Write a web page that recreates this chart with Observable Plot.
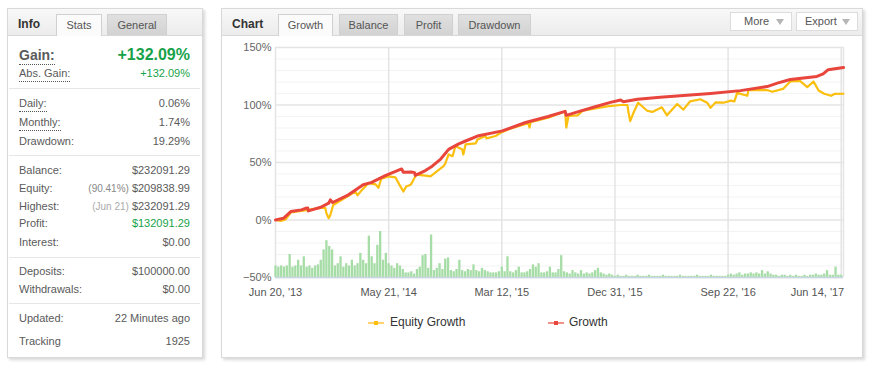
<!DOCTYPE html>
<html><head><meta charset="utf-8">
<script src="https://cdn.jsdelivr.net/npm/d3@7"></script>
<script src="https://cdn.jsdelivr.net/npm/@observablehq/plot@0.6"></script>
<style>
body{margin:0;background:#fff;font-family:"Liberation Sans",Arial,sans-serif;}
#page{position:relative;width:872px;height:368px;overflow:hidden;}
.panel{position:absolute;box-sizing:border-box;background:#fff;border:1px solid #d9d9d9;box-shadow:2px 2px 3px rgba(0,0,0,0.16);}
.hdr{position:absolute;left:0;top:0;right:0;height:26px;background:linear-gradient(#f8f8f8,#ececec);border-bottom:1px solid #d8d8d8;}
.title{position:absolute;top:8px;line-height:14px;font-weight:bold;font-size:12px;color:#333;}
.tab{position:absolute;top:5px;height:21px;box-sizing:border-box;font-size:11px;color:#555;text-align:center;line-height:20px;border:1px solid #d0d0d0;border-bottom:none;background:linear-gradient(#e0e0e0,#d2d2d2);}
.tab.on{background:#fbfbfb;height:22px;color:#555;}
.btn{position:absolute;top:3px;height:19px;box-sizing:border-box;border:1px solid #dcdcdc;background:#fff;font-size:11px;color:#555;line-height:17px;}
.btn .lab{position:absolute;left:13px;}
.btn .arr{position:absolute;right:7px;top:6px;width:0;height:0;border-left:4px solid transparent;border-right:4px solid transparent;border-top:6px solid #b5b5b5;}
.row{position:absolute;left:11px;right:12px;height:14px;line-height:14px;font-size:11px;color:#5a5a5a;}
.row .l{position:absolute;left:0;top:0;}
.row .v{position:absolute;right:0;top:0;white-space:nowrap;}
.dot{display:inline-block;border-bottom:1px dotted #555;padding-bottom:1px;}
.big{font-size:14px;font-weight:bold;line-height:16px;}
.bigv{font-size:16px;font-weight:bold;line-height:16px;}
.green{color:#17a24a;}
.note{font-size:10px;color:#888;margin-right:3px;}
.note2{font-size:10px;color:#aaa;margin-right:3px;}
.sep{position:absolute;left:1px;right:2px;height:1px;background:#e6e6e6;}
.leg{position:absolute;font-size:12px;color:#333;line-height:14px;}
.sym{position:absolute;height:2px;width:16px;}
.sym i{position:absolute;left:6px;top:-1px;width:4px;height:4px;}
</style>
</head><body>
<div id="page">
  <div class="panel" style="left:7px;top:8px;width:196px;height:350px" id="info">
    <div class="hdr"></div>
    <div class="title" style="left:10px">Info</div>
    <div class="tab on" style="left:48px;width:46px">Stats</div>
    <div class="tab" style="left:99px;width:60px">General</div>
  </div>
  <div class="panel" style="left:221px;top:8px;width:642px;height:350px">
    <div class="hdr"></div>
    <div class="title" style="left:10px">Chart</div>
    <div class="tab on" style="left:56px;width:55px">Growth</div>
    <div class="tab" style="left:117px;width:59px">Balance</div>
    <div class="tab" style="left:182px;width:49px">Profit</div>
    <div class="tab" style="left:236px;width:73px">Drawdown</div>
    <div class="btn" style="left:508px;width:62px"><span class="lab">More</span><span class="arr"></span></div>
    <div class="btn" style="left:574px;width:62px"><span class="lab" style="left:8px">Export</span><span class="arr"></span></div>
  </div>
  <div id="plot" style="position:absolute;left:222px;top:36px"></div>
  <div class="sym" style="left:368px;top:322px;background:#fdd46e"><i style="background:#fbbf0f"></i></div>
  <div class="leg" style="left:390px;top:315px" id="leg1"></div>
  <div class="sym" style="left:548px;top:322px;background:#f29189"><i style="background:#e8453c"></i></div>
  <div class="leg" style="left:569px;top:315px" id="leg2"></div>
</div>
<script>
// ---- info panel data ----
const infoLabels = ["Gain:","Abs. Gain:","Daily:","Monthly:","Drawdown:","Balance:","Equity:","Highest:","Profit:","Interest:","Deposits:","Withdrawals:","Updated:","Tracking"];
const infoValues = ["+132.09%","+132.09%","0.06%","1.74%","19.29%","$232091.29","$209838.99","$232091.29","$132091.29","$0.00","$100000.00","$0.00","22 Minutes ago","1925"];
const infoNotes = ["","","","","","","(90.41%)","(Jun 21)","","","","","",""];
const dottedRows = [0,1,2,3];
const greenRows = [0,1,8];

// ---- chart data ----
const seriesNames = ["Equity Growth","Growth"];
const xTickIdx = [0,200,400,600,800,1000];
const xTickLabels = ["Jun 20, '13","May 21, '14","Mar 12, '15","Dec 31, '15","Sep 22, '16","Jun 14, '17"];
const yTicks = [-50,0,50,100,150];
const growth = [[0,0],[14,1.5],[27,7.3],[46,8.8],[53,10.2],[57,10.4],[58,7.9],[80,11.1],[94,14.6],[97,17.5],[101,15.2],[129,21.9],[155,30.7],[170,32.7],[194,38.6],[223,44.4],[226,41.5],[240,41.8],[246,41.2],[247,38.8],[265,43],[277,46.8],[292,53],[306,61.4],[323,66],[336,68.7],[357,73],[401,77.5],[442,84.8],[482,90],[512,94.5],[514,91],[534,94],[562,98],[592,102.3],[610,104.4],[615,102.9],[640,105],[680,106.7],[769,110],[822,112.5],[869,116],[887,119],[910,122.2],[957,124.8],[968,127],[977,130.7],[1004,132.6]];
const equity = [[0,0],[9,-0.8],[18,0.5],[27,6.5],[46,8],[80,10.5],[88,10.5],[90,5.8],[94,1.5],[97,4.4],[102,13],[129,21],[141,24.8],[145,21.5],[150,24.5],[164,32],[177,31],[182,28],[187,36],[200,37.9],[212,37],[221,29],[226,24.8],[231,29.2],[239,30.7],[244,35],[249,39.5],[265,38.6],[274,38],[297,46.8],[300,49],[306,57],[313,55.5],[318,64.3],[330,61.4],[332,57],[336,65.8],[354,66.7],[357,70],[371,73],[373,71],[389,73],[401,76.6],[415,79.5],[447,84.2],[449,80.4],[451,85],[482,89],[504,93],[512,94.5],[514,80.4],[518,90.6],[534,91],[543,95],[586,98.8],[610,100],[622,100],[624,93.5],[627,86],[633,93.5],[641,102],[657,95],[666,94],[683,98],[692,91],[710,100.9],[721,96],[733,103.2],[751,105],[763,102],[769,97.5],[778,102.3],[792,102],[805,103.8],[811,103],[816,110.5],[834,108],[836,113],[869,113],[878,111.5],[897,114],[910,120.5],[927,121],[940,115.5],[951,120.4],[960,112.6],[969,110],[982,108],[988,109.6],[1004,109.8]];
const barStep = 5;
const bars = [10,9,10,9,10,20,9,10,15,10, 18,9,10,8,10,11,15,24,32,27, 24,10,12,18,9,12,10,15,10,12, 21,15,12,36,18,12,28,40,15,21,
 12,10,8,12,10,7,4,4,5,3, 7,9,19,20,8,37,6,8,12,7, 16,17,6,5,7,15,6,5,7,6, 11,6,5,8,6,5,4,4,4,5, 9,5,18,5,4,6,9,4,4,5,
 7,11,9,12,4,4,5,9,4,4, 7,19,5,4,3,6,4,3,6,3, 4,3,4,6,8,4,3,2,3,2, 1,2,1,1,2,1,1,1,2,1, 1,1,2,1,1,1,1,2,1,1,
 1,1,1,2,1,1,1,1,1,2, 1,1,1,1,2,1,1,1,1,1, 2,3,2,3,4,2,3,3,4,3, 4,3,6,3,5,3,2,2,1,2, 2,1,2,1,2,1,1,2,1,2,
 2,3,2,2,3,6,2,2,9,2, 2];

// ---- info panel layout ----
const rowCenters = [55,73,103,122,141,170,188,206,223,242,271,289,318,341];
const sepYs = [88,155,257,303];
const info = document.getElementById("info");
infoLabels.forEach((lab,i)=>{
  const r = document.createElement("div");
  r.className = "row";
  const big = i===0;
  r.style.top = (rowCenters[i] - (big?8:7) - 9) + "px";
  if (big) r.style.height = "16px";
  const l = document.createElement("span");
  l.className = "l" + (big?" big":"");
  const inner = document.createElement("span");
  if (dottedRows.includes(i)) inner.className = "dot";
  inner.textContent = lab;
  l.appendChild(inner);
  const v = document.createElement("span");
  v.className = "v" + (big?" bigv":"") + (greenRows.includes(i)?" green":"");
  if (infoNotes[i]) {
    const n = document.createElement("span");
    n.className = i===7 ? "note2" : "note";
    n.textContent = infoNotes[i];
    v.appendChild(n);
  }
  v.appendChild(document.createTextNode(infoValues[i]));
  r.appendChild(l); r.appendChild(v);
  info.appendChild(r);
});
sepYs.forEach(y=>{
  const s = document.createElement("div");
  s.className = "sep"; s.style.top = (y-9)+"px";
  info.appendChild(s);
});
document.getElementById("leg1").textContent = seriesNames[0];
document.getElementById("leg2").textContent = seriesNames[1];

// ---- chart ----
const barData = bars.map((v,i)=>({x:i*barStep, v}));
const minor = d3.range(-40,150,10).filter(d=>d%50!==0);
const fmtY = d => (d<0 ? "\u2212"+(-d) : d) + "%";
const fmtX = d => xTickLabels[xTickIdx.indexOf(d)];
const xMax = 1004;
const chart = Plot.plot({
  width:638, height:270, marginLeft:53, marginRight:17, marginTop:11, marginBottom:29,
  x:{domain:[0,xMax]}, y:{domain:[-50,150]},
  style:{fontFamily:"'Liberation Sans', Arial, sans-serif", fontSize:"11px", color:"#555", background:"transparent", overflow:"visible"},
  marks:[
    Plot.ruleY(minor,{stroke:"#f3f3f3"}),
    Plot.ruleY(yTicks,{stroke:"#e4e4e4", strokeWidth:1.5}),
    Plot.ruleX(xTickIdx,{stroke:"#e4e4e4", strokeWidth:1.5}),
    Plot.ruleX([xMax],{stroke:"#e4e4e4", strokeWidth:1.5}),
    Plot.ruleX(barData,{x:"x", y1:d=>-50, y2:d=>-50+d.v, stroke:"#a6dca6", strokeWidth:2.3}),
    Plot.ruleY([-50],{stroke:"#c9d5e2", strokeWidth:1.5}),
    Plot.line(equity,{x:d=>d[0], y:d=>d[1], stroke:"#fbbf0f", strokeWidth:2.2}),
    Plot.line(growth,{x:d=>d[0], y:d=>d[1], stroke:"#e8453c", strokeWidth:3}),
    Plot.axisY({ticks:yTicks, tickSize:0, tickPadding:4, tickFormat:fmtY, label:null, color:"#666"}),
    Plot.axisX({ticks:xTickIdx.slice(0,5), tickSize:0, tickPadding:11, tickFormat:fmtX, label:null}),
    Plot.axisX({ticks:xTickIdx.slice(5), tickSize:0, tickPadding:11, tickFormat:fmtX, label:null, textAnchor:"end", dx:3})
  ]
});
document.getElementById("plot").appendChild(chart);
</script>
</body></html>
